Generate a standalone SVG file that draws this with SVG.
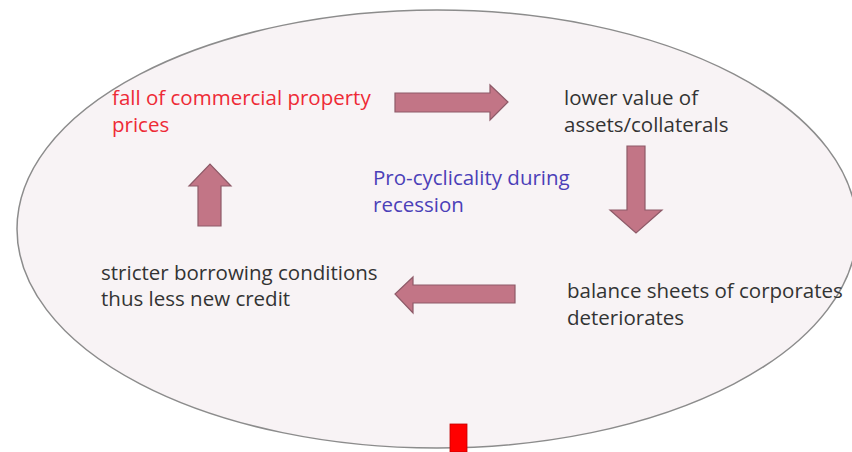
<svg xmlns="http://www.w3.org/2000/svg" width="852" height="452" viewBox="0 0 852 452">
<style>
.t{font-family:"Open Sans","Noto Sans","DejaVu Sans",sans-serif;font-size:20.5px;fill:#333}
.red{fill:#ee2a35}
.blue{fill:#4b3fb8}
.arr{fill:#c27586;stroke:#8e5a68;stroke-width:1.2}
</style>
<rect width="852" height="452" fill="#fff"/>
<g id="cycle">
<ellipse cx="437" cy="229" rx="420" ry="219" fill="#f8f3f5" stroke="#8c8c8c" stroke-width="1.5"/>
</g>
<g id="connectors">
<path class="arr" d="M395,93 H490 V85 L508,102 L490,120 V112 H395 Z"/>
<path class="arr" d="M627,146 H645 V210 H662 L636,233 L610,210 H627 Z"/>
<path class="arr" d="M515,285 V303 H413 V313 L395,294 L413,277 V285 Z"/>
<path class="arr" d="M198,226 V186 H189 L210,164 L231,186 H221 V226 Z"/>
</g>
<g id="n1"><text class="t red" x="112" y="105">fall of commercial property</text><text class="t red" x="112" y="132">prices</text></g>
<g id="n2"><text class="t" x="564" y="105">lower value of</text><text class="t" x="564" y="132">assets/collaterals</text></g>
<g id="n3"><text class="t blue" x="373" y="185">Pro-cyclicality during</text><text class="t blue" x="373" y="212">recession</text></g>
<g id="n4"><text class="t" x="101" y="280">stricter borrowing conditions</text><text class="t" x="101" y="306">thus less new credit</text></g>
<g id="n5"><text class="t" x="567" y="298">balance sheets of corporates</text><text class="t" x="567" y="325">deteriorates</text></g>
<g id="marker"><rect x="450" y="424" width="17" height="28" fill="#ff0000" stroke="#c00000" stroke-width="0.8"/></g>
</svg>
